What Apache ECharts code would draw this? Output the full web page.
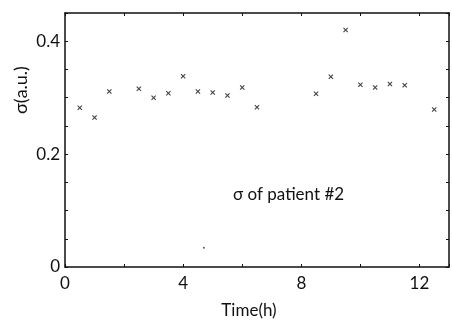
<!DOCTYPE html>
<html>
<head>
<meta charset="utf-8">
<script src="https://cdn.jsdelivr.net/npm/echarts@6/dist/echarts.min.js"></script>
<style>
  html, body { margin: 0; padding: 0; background: #fff; }
  #chart { width: 452px; height: 323px; }
</style>
</head>
<body>
<div id="chart"></div>
<script>
// 数据：时间 (h) 与 σ (a.u.)
const time = [0.5, 1.0, 1.5, 2.5, 3.0, 3.5, 4.0, 4.5, 5.0, 5.5, 6.0, 6.5, 8.5, 9.0, 9.5, 10.0, 10.5, 11.0, 11.5, 12.5];
const sigma = [0.282, 0.265, 0.311, 0.316, 0.300, 0.308, 0.338, 0.311, 0.309, 0.304, 0.318, 0.283, 0.307, 0.337, 0.420, 0.323, 0.318, 0.324, 0.322, 0.279];
// 图中孤立的小点
const strayTime = [4.7];
const straySigma = [0.034];
// 刻度标签
const xLabels = [0, 4, 8, 12];
const yLabels = [0, 20, 40]; // 百分之一单位

function pairs(xs, ys) {
    return xs.map((x, i) => [x, ys[i]]);
}

var chartDom = document.getElementById('chart');
var myChart = echarts.init(chartDom);
var font = 'Lato, "Open Sans", sans-serif';
var ink = '#111';
var crossPath = 'path://M0,1.5L1.5,0L5,3.5L8.5,0L10,1.5L6.5,5L10,8.5L8.5,10L5,6.5L1.5,10L0,8.5L3.5,5Z';

// 边框轴（无标签，刻度朝内）
function frameAxis(extra) {
    return Object.assign({
        type: 'value',
        axisLine: { show: true, onZero: false, lineStyle: { color: ink, width: 1.5 } },
        axisTick: { show: true, inside: true, length: 3, lineStyle: { color: ink } },
        splitLine: { show: false },
        axisLabel: { show: false }
    }, extra);
}

var option = {
    animation: false,
    backgroundColor: '#fff',
    grid: { left: 65, right: 1, top: 13, bottom: 56 },
    xAxis: [
        frameAxis({
            min: 0, max: 13, interval: 2, position: 'bottom',
            axisLabel: {
                show: true, color: ink, fontFamily: font, fontSize: 17, margin: 8,
                formatter: v => xLabels.indexOf(v) >= 0 ? String(v) : ''
            }
        }),
        frameAxis({ min: 0, max: 13, interval: 2, position: 'top' })
    ],
    yAxis: [
        frameAxis({
            min: 0, max: 0.45, interval: 0.05, position: 'left',
            axisLabel: {
                show: true, color: ink, fontFamily: font, fontSize: 17, margin: 5,
                formatter: function (v) {
                    var c = Math.round(v * 100);
                    if (yLabels.indexOf(c) < 0) return '';
                    return c === 0 ? '0' : (c / 100).toFixed(1);
                }
            }
        }),
        frameAxis({ min: 0, max: 0.45, interval: 0.05, position: 'right' })
    ],
    graphic: [
        {
            type: 'text', x: 21, y: 90, rotation: Math.PI / 2,
            style: { text: 'σ(a.u.)', fill: ink, font: '18px ' + font, textAlign: 'center', textVerticalAlign: 'middle' }
        },
        {
            type: 'text', x: 249, y: 311,
            style: { text: 'Time(h)', fill: ink, font: '17px ' + font, textAlign: 'center', textVerticalAlign: 'middle' }
        },
        {
            type: 'text', x: 233, y: 195,
            style: { text: 'σ of patient #2', fill: ink, font: '17px ' + font, textAlign: 'left', textVerticalAlign: 'middle' }
        }
    ],
    series: [
        {
            type: 'scatter',
            data: pairs(time, sigma),
            symbol: crossPath,
            symbolSize: 5,
            itemStyle: { color: '#111' }
        },
        {
            type: 'scatter',
            data: pairs(strayTime, straySigma),
            symbol: 'circle',
            symbolSize: 2,
            itemStyle: { color: '#333' }
        }
    ]
};

option && myChart.setOption(option);
</script>
</body>
</html>
